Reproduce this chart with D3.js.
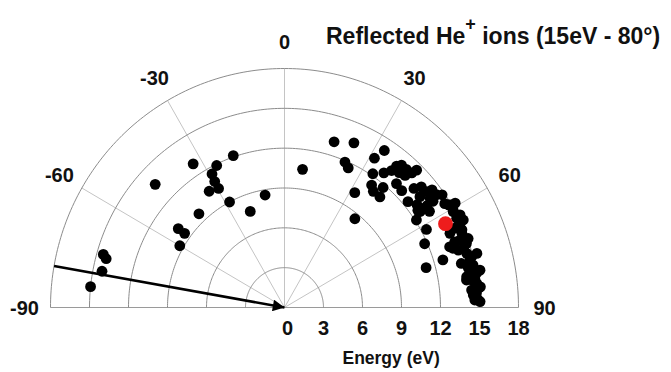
<!DOCTYPE html>
<html>
<head>
<meta charset="utf-8">
<script src="https://cdn.jsdelivr.net/npm/d3@7"></script>
<style>
  html, body { margin: 0; padding: 0; background: #fff; }
  svg { display: block; }
  text { font-family: "Liberation Sans", Arial, sans-serif; font-weight: bold; fill: #111; }
</style>
</head>
<body>
<svg id="chart" width="671" height="372"></svg>
<script>
// ---- data (angle in degrees, energy in eV) ----
const dotAngles = [
  -84,-79,-75,-74,-60,-54,-54,-43,-47,-33,-26,-29,-29.5,-29.5,-33.5,-19,-28,-20,-10,7.6,
  17,23.3,23,25,33,31.6,32,39,34,37,38.6,39,40,42,44,44.5,41,43,36,38,41.4,40,42.7,45.7,
  50,48,51.3,51.4,52,54,53.7,54.7,55,55,54.5,58.5,60.5,52.8,55.3,57,57,61.7,66,73.6,74.6,
  49.2,55,
  58.8,60.9,63.1,65.8,67.7,69.4,69.3,71,72.1,71.3,69.8,73.8,75.9,77.6,78.2,79.9,81.5,80.6,
  83,84.4,85.9,87.8,84.8,86.3,66.3,70.2,76.3,81.6,64.4,74.6,79.4,84.1,57.6,59.1,62.7,65.5,
  66.8,71,75.1,80.1,81.8,87.8,88.3
];
const dotEnergies = [
  15.0,14.3,14.2,14.5,9.3,10.1,9.5,9.65,13.6,12.9,11.9,11.5,10.9,10.3,10.5,12.1,9.0,7.7,8.6,10.5,
  13.05,13.5,11.9,11.6,14.1,13.2,10.2,8.6,12.15,12.7,13.2,13.7,14.0,14.0,14.1,14.5,13.45,13.6,11.4,11.1,11.1,11.8,12.7,12.6,
  12.4,13.4,13.35,14.0,14.4,14.45,13.9,12.9,13.4,13.95,12.6,14.8,14.9,12.8,12.7,13.3,12.1,12.4,11.8,12.7,11.3,
  13.9,14.8,
  14.9,14.85,14.85,14.8,14.75,14.4,14.0,13.7,14.05,14.65,15.05,14.6,14.7,14.85,14.45,14.75,14.8,14.2,
  14.9,15.0,14.8,14.9,14.45,14.55,13.9,13.5,14.0,14.15,15.25,15.35,15.3,15.15,14.6,15.3,15.2,14.4,
  14.85,14.8,14.9,15.0,14.55,14.65,15.05
];
const highlightAngle = [63];
const highlightEnergy = [13.9];
const incidentAngle = -80;
const energyTicks = [0, 3, 6, 9, 12, 15, 18];
const angleTicks = [-90, -60, -30, 0, 30, 60, 90];
const titleMain = "Reflected He";
const titleSup = "+";
const titleRest = " ions (15eV - 80°)";
const axisTitle = "Energy (eV)";

// ---- layout ----
const svg = d3.select("#chart");
const cx = 284.5, cy = 307.5;
const maxE = 18;
const rx = d3.scaleLinear().domain([0, maxE]).range([0, 234]);
const ry = d3.scaleLinear().domain([0, maxE]).range([0, 239]);
const rad = d => d * Math.PI / 180;
const px = (a, e) => cx + rx(e) * Math.sin(rad(a));
const py = (a, e) => cy - ry(e) * Math.cos(rad(a));

svg.append("rect").attr("width", 671).attr("height", 372).attr("fill", "#fff");

const grid = svg.append("g");
// spokes
grid.selectAll("line.spoke").data(angleTicks.filter(a => Math.abs(a) < 90)).enter()
  .append("line").attr("class", "spoke")
  .attr("x1", cx).attr("y1", cy)
  .attr("x2", a => px(a, maxE)).attr("y2", a => py(a, maxE))
  .attr("stroke", "#c4c4c4").attr("stroke-width", 1);
// baseline
grid.append("line")
  .attr("x1", px(-90, maxE)).attr("y1", cy).attr("x2", px(90, maxE)).attr("y2", cy)
  .attr("stroke", "#9a9a9a").attr("stroke-width", 1);
// rings
const ringLine = d3.line().x(d => d[0]).y(d => d[1]);
const angs = d3.range(-90, 90.01, 1);
grid.selectAll("path.ring").data(energyTicks.filter(e => e > 0)).enter()
  .append("path").attr("class", "ring")
  .attr("d", e => ringLine(angs.map(a => [px(a, e), py(a, e)])))
  .attr("fill", "none").attr("stroke", "#8c8c8c").attr("stroke-width", 1);

// angle labels
svg.selectAll("text.alab").data(angleTicks).enter()
  .append("text").attr("class", "alab")
  .attr("x", a => px(a, 20))
  .attr("y", a => py(a, 20) + 7)
  .attr("text-anchor", "middle")
  .attr("font-size", 20)
  .text(d => d);

// energy tick labels
svg.selectAll("text.elab").data(energyTicks).enter()
  .append("text").attr("class", "elab")
  .attr("x", e => cx + rx(e) + (e === 0 ? 3 : 0))
  .attr("y", cy + 27)
  .attr("text-anchor", "middle")
  .attr("font-size", 20)
  .text(d => d);

svg.append("text")
  .attr("x", cx + rx(8.2)).attr("y", 364)
  .attr("text-anchor", "middle").attr("font-size", 17.5)
  .text(axisTitle);

// title
const t = svg.append("text").attr("x", 326).attr("y", 44).attr("font-size", 23);
t.append("tspan").text(titleMain);
t.append("tspan").attr("dy", -14).attr("font-size", 18).text(titleSup);
t.append("tspan").attr("dy", 14).text(titleRest);

// data points
const pts = dotAngles.map((a, i) => ({ a, e: dotEnergies[i] }));
svg.append("g").selectAll("circle").data(pts).enter()
  .append("circle")
  .attr("cx", d => px(d.a, d.e)).attr("cy", d => py(d.a, d.e))
  .attr("r", 5.4).attr("fill", "#000");

// incident arrow
svg.append("defs").append("marker")
  .attr("id", "ah").attr("viewBox", "0 0 10 10").attr("refX", 10).attr("refY", 5)
  .attr("markerWidth", 5.5).attr("markerHeight", 4.5).attr("markerUnits", "strokeWidth")
  .attr("orient", "auto")
  .append("path").attr("d", "M0,0 L10,5 L0,10 Z").attr("fill", "#000");
svg.append("line")
  .attr("x1", px(incidentAngle, maxE)).attr("y1", py(incidentAngle, maxE))
  .attr("x2", cx).attr("y2", cy)
  .attr("stroke", "#000").attr("stroke-width", 2.6)
  .attr("marker-end", "url(#ah)");

// highlighted point
svg.append("g").selectAll("circle").data(highlightAngle.map((a, i) => ({ a, e: highlightEnergy[i] }))).enter()
  .append("circle")
  .attr("cx", d => px(d.a, d.e)).attr("cy", d => py(d.a, d.e))
  .attr("r", 7.4).attr("fill", "#ee1c1c");
</script>
</body>
</html>
